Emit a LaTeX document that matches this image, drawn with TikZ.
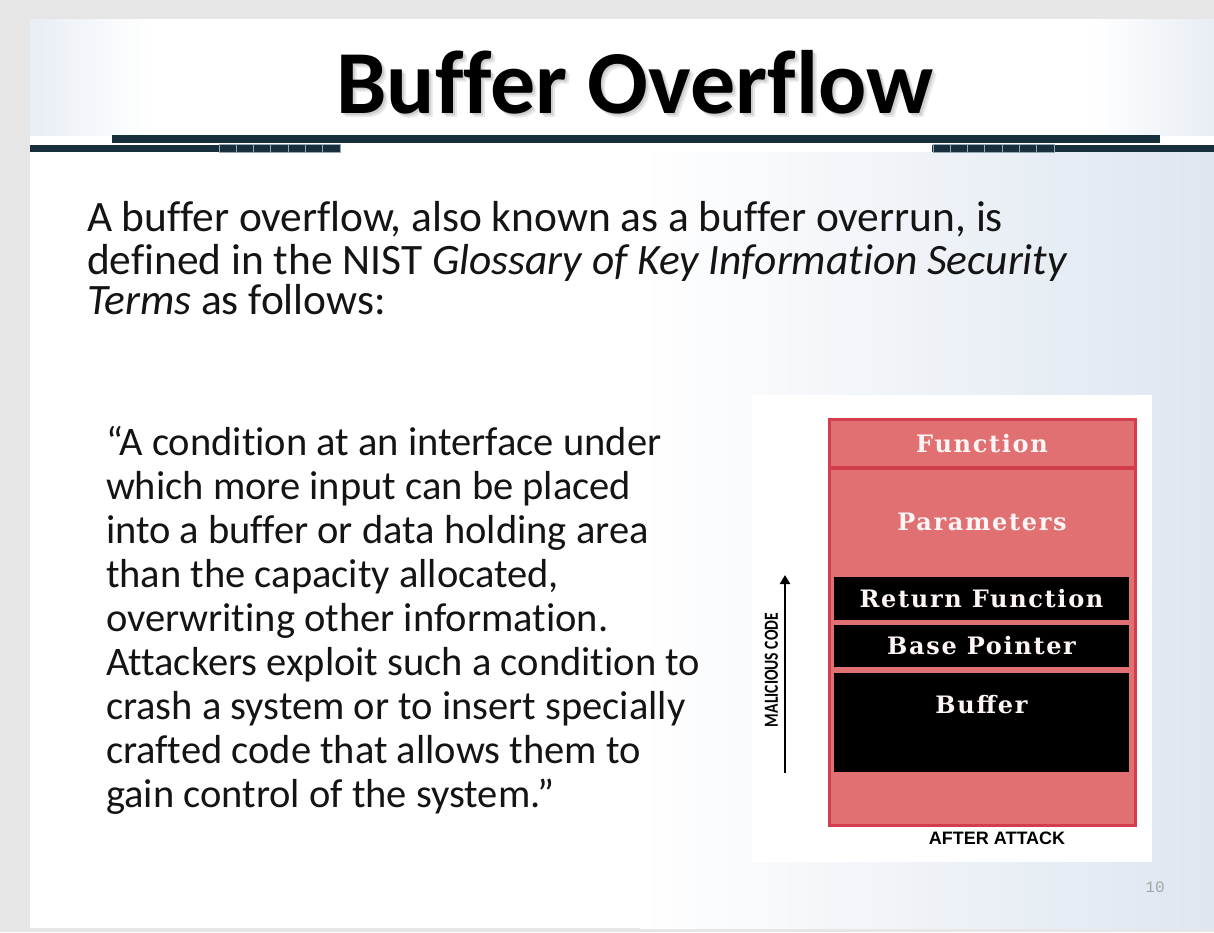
\documentclass[tikz,border=0pt]{standalone}
\usepackage{fontspec}
\setmainfont{Carlito}[Ligatures=NoCommon]
\newfontfamily\stackfont{DejaVu Serif}[LetterSpace=7]
\newfontfamily\tagfont{Liberation Sans}
\newfontfamily\pagefont{Liberation Mono}
\usepackage{graphicx}
\usetikzlibrary{arrows.meta, positioning}

\definecolor{frame}{RGB}{230,230,230}
\definecolor{bar}{RGB}{24,48,62}
\definecolor{barlight}{RGB}{150,168,178}
\definecolor{stackred}{RGB}{224,112,114}
\definecolor{stackline}{RGB}{212,62,76}
\definecolor{haze}{RGB}{222,230,240}
\definecolor{ink}{RGB}{20,20,20}

\begin{document}
\begin{tikzpicture}[x=1pt, y=-1pt,
        every node/.style={inner sep=0pt, outer sep=0pt},
        headline/.style={anchor=base, font=\fontsize{90}{90}\selectfont\bfseries},
        intro/.style={anchor=base west, text=ink, font=\fontsize{43.4}{43.4}\selectfont},
        quote/.style={anchor=base west, text=ink, font=\fontsize{40.5}{40.5}\selectfont},
        celltext/.style={text=white!96!red, font=\stackfont\bfseries\fontsize{24}{24}\selectfont},
        blkcell/.style={celltext, fill=black, minimum width=295pt},
        arrow/.style={-{Triangle[length=9pt, width=10pt]}, line width=2.8pt}
    ]
    \useasboundingbox (0,0) rectangle (1214,932);

    % Slide and background
    \fill[frame] (0,0) rectangle (1214,932);
    \fill[white] (30,19) rectangle (1214,928);
    \shade[left color=white, right color=haze] (640,152) rectangle (1214,928);
    \shade[left color=haze!70, right color=white] (30,19) rectangle (150,135);
    \shade[left color=white, right color=haze!70] (1090,19) rectangle (1214,135);

    % Title bar
    \fill[bar] (112,135) rectangle (1160,143);
    \fill[bar] (30,145) rectangle (340,152);
    \fill[bar] (932,145) rectangle (1214,152);
    \foreach \x in {0,...,6} {
        \draw[barlight, line width=1pt] ({219+17.3*\x},144.5) rectangle +(17.3,8);
        \draw[barlight, line width=1pt] ({933+17.3*\x},144.5) rectangle +(17.3,8);
    }

    % Title
    \node[headline, text=black!30, opacity=0.3] (headblur) at (639,117) {Buffer Overflow};
    \node[headline, text=black!35, opacity=0.4] (headshadow) at (637,115) {Buffer Overflow};
    \node[headline] (head) at (635,113) {Buffer Overflow};

    % Intro
    \node[intro] (i1) at (87,231) {A buffer overflow, also known as a buffer overrun, is};
    \node[intro] (i2) at (87,274) {defined in the NIST \textit{Glossary of Key Information Security}};
    \node[intro] (i3) at (87,314) {\textit{Terms} as follows:};

    % Quote lines
    \foreach \qline [count=\k] in {
            {“A condition at an interface under},
            {which more input can be placed},
            {into a buffer or data holding area},
            {than the capacity allocated,},
            {overwriting other information.},
            {Attackers exploit such a condition to},
            {crash a system or to insert specially},
            {crafted code that allows them to},
            {gain control of the system.”}}
        \node[quote] (q\k) at (106, {455+44*(\k-1)}) {\qline};

    % Stack after the attack
    \node[fill=white, minimum width=400pt, minimum height=467pt] (panel) at (952,628.5) {};
    \node[draw=stackline, fill=stackred, line width=3pt, minimum width=306pt, minimum height=406pt] (stack) at (982,622) {};
    \draw[stackline, line width=3.5pt] ([yshift=-49pt]stack.north west) -- ([yshift=-49pt]stack.north east);

    \node[celltext, anchor=base] (fn) at (982,452) {Function};
    \node[celltext, anchor=base] (par) at (982,530) {Parameters};
    \node[blkcell, minimum height=43pt] (retf) at (981.5,598.5) {Return Function};
    \node[blkcell, minimum height=42pt, below=5pt of retf] (bptr) {Base Pointer};
    \node[blkcell, minimum height=99pt, below=6pt of bptr] (buf) {};
    \node[celltext, anchor=base] (buflbl) at ([yshift=-40pt]buf.north) {Buffer};

    % Malicious code arrow
    \coordinate (mcbot) at (785,773);
    \coordinate (mctop) at (785,575);
    \draw[arrow] (mcbot) -- (mctop);
    \node[rotate=90, font=\bfseries\fontsize{20}{20}\selectfont] (mc) at (771.5,670) {\scalebox{0.78}[1]{MALICIOUS CODE}};

    \node[anchor=base, font=\tagfont\bfseries\fontsize{18}{18}\selectfont] (after) at (997,844) {AFTER ATTACK};
    \node[anchor=base, text=black!35, font=\pagefont\fontsize{16}{16}\selectfont] (pg) at (1155,892) {10};

\end{tikzpicture}
\end{document}
